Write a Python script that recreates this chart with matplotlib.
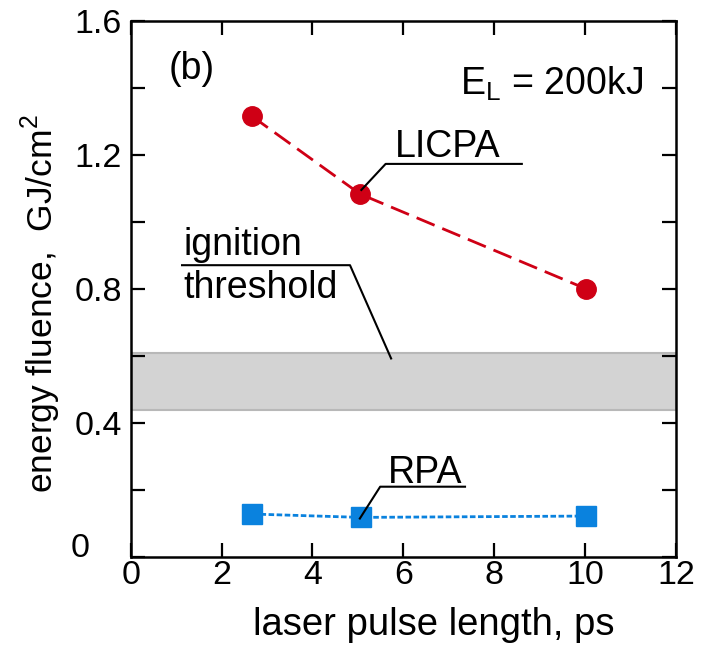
import matplotlib
matplotlib.use("Agg")
import matplotlib.pyplot as plt
from matplotlib.ticker import MultipleLocator, FixedLocator

plt.rcParams['font.family'] = ['Liberation Sans', 'DejaVu Sans']
plt.rcParams['mathtext.fontset'] = 'custom'
plt.rcParams['mathtext.rm'] = 'Liberation Sans'

# data
pulse_licpa = [2.67, 5.05, 10.03]
fluence_licpa = [1.315, 1.083, 0.80]
pulse_rpa = [2.68, 5.06, 10.03]
fluence_rpa = [0.129, 0.119, 0.123]
threshold_band = [0.44, 0.608]
xticks = [0, 2, 4, 6, 8, 10, 12]
yticks = [0, 0.4, 0.8, 1.2, 1.6]
ytick_labels = ['', '0.4', '0.8', '1.2', '1.6']

W, H = 710, 650
fig = plt.figure(figsize=(W / 100, H / 100), dpi=100)
L, R, T, B = 130.7, 676.0, 20.7, 557.3
ax = fig.add_axes([L / W, 1 - B / H, (R - L) / W, (B - T) / H])

FS = 27
TFS = 24.5

ax.axhspan(threshold_band[0], threshold_band[1], facecolor='#d3d3d3',
           edgecolor='#b8b8b8', linewidth=1.5, zorder=1)

ax.plot(pulse_licpa, fluence_licpa, color='#cf0015', linestyle=(0, (7, 3)),
        linewidth=2.0, marker='o', markersize=14, zorder=3)
ax.plot(pulse_rpa, fluence_rpa, color='#0a82de', linestyle=(0, (2, 0.9)),
        linewidth=2.0, marker='s', markersize=14, zorder=3)

ax.set_xlim(0, 12)
ax.set_ylim(0, 1.6)
ax.xaxis.set_major_locator(FixedLocator(xticks))
ax.yaxis.set_major_locator(FixedLocator(yticks))
ax.yaxis.set_minor_locator(MultipleLocator(0.2))
ax.set_yticklabels(ytick_labels)
ax.tick_params(which='both', direction='in', top=True, right=True,
               length=10, width=1.6, labelsize=TFS)
ax.tick_params(axis='x', pad=2.2)
ax.tick_params(axis='y', pad=6.5)
for s in ax.spines.values():
    s.set_linewidth(1.8)

# the "0" label of the y axis sits raised and left of the others
ax.text(-0.093, 0.001, '0', transform=ax.transAxes, fontsize=TFS,
        ha='center', va='baseline')

ax.set_xlabel('laser pulse length, ps', fontsize=FS + 0.5)
ax.xaxis.set_label_coords(0.555, -0.0926)
ax.set_ylabel('energy fluence,  GJ/cm$^2$', fontsize=25.5)
ax.yaxis.set_label_coords(-0.124, 0.472)

ax.text(0.83, 1.426, '(b)', fontsize=FS, ha='left', va='baseline')
ax.text(11.28, 1.378, r'E$_\mathregular{L}$ = 200kJ', fontsize=FS,
        ha='right', va='baseline')

lc = 'black'
lw = 1.5
# LICPA label
ax.text(5.82, 1.193, 'LICPA', fontsize=FS, ha='left', va='baseline')
ax.plot([5.06, 5.61, 8.63], [1.093, 1.173, 1.173], color=lc, linewidth=lw,
        zorder=4, solid_capstyle='butt')
# ignition threshold
ax.text(1.16, 0.901, 'ignition', fontsize=FS, ha='left', va='baseline')
ax.text(1.16, 0.772, 'threshold', fontsize=FS, ha='left', va='baseline')
ax.plot([1.107, 4.826, 5.74], [0.871, 0.871, 0.590], color=lc, linewidth=lw,
        zorder=4, solid_capstyle='butt')
# RPA
ax.text(5.67, 0.221, 'RPA', fontsize=FS, ha='left', va='baseline')
ax.plot([5.03, 5.49, 7.38], [0.113, 0.2105, 0.2105], color=lc, linewidth=lw,
        zorder=4, solid_capstyle='butt')

fig.savefig('out.png', dpi=100)
